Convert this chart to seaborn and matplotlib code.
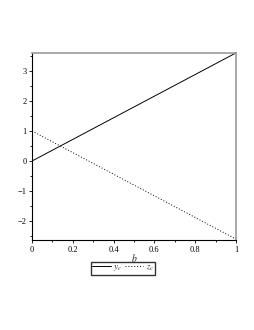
import numpy as np
import pandas as pd
import matplotlib.pyplot as plt
import seaborn as sns
from matplotlib.ticker import MultipleLocator
from matplotlib.lines import Line2D

# endpoints of the two lines
b = [0.0, 1.0]
y_c = [0.0, 3.6]
z_c = [1.0, -2.6]

df = pd.DataFrame({
    "b": b + b,
    "value": y_c + z_c,
    "series": ["$y_c$"] * 2 + ["$z_c$"] * 2,
})

sns.set_style("white")
plt.rcParams["font.family"] = ["Liberation Serif", "DejaVu Serif"]
plt.rcParams["mathtext.fontset"] = "stix"

fig = plt.figure(figsize=(2.55, 3.3), dpi=100)
ax = fig.add_axes([0.1255, 0.2727, 0.8, 0.567])

sns.lineplot(data=df, x="b", y="value", style="series", color="black",
             dashes={"$y_c$": "", "$z_c$": (1, 2)}, linewidth=0.7, ax=ax, legend=False)

ax.set_xlim(0, 1.0)
ax.set_ylim(-2.63, 3.6)
ax.xaxis.set_major_locator(MultipleLocator(0.2))
ax.xaxis.set_minor_locator(MultipleLocator(0.1))
ax.yaxis.set_major_locator(MultipleLocator(1))
ax.yaxis.set_minor_locator(MultipleLocator(0.5))
ax.set_xticks([0, 0.2, 0.4, 0.6, 0.8, 1.0])
ax.set_xticklabels(["0", "0.2", "0.4", "0.6", "0.8", "1"])
ax.tick_params(which="both", direction="out", length=2.5, width=0.6, labelsize=6, pad=1.5,
               left=True, bottom=True, colors="black")
ax.tick_params(which="minor", length=1.5)
ax.set_xlabel("$b$", fontsize=7, labelpad=-1)
ax.set_ylabel("")

for side in ["left", "bottom"]:
    ax.spines[side].set_color("black")
    ax.spines[side].set_linewidth(0.8)
for side in ["top", "right"]:
    ax.spines[side].set_color("#999999")
    ax.spines[side].set_linewidth(1.2)

handles = [Line2D([], [], color="black", lw=0.7),
           Line2D([], [], color="black", lw=0.7, dashes=(1, 2))]
fig.legend(handles, ["$y_c$", "$z_c$"], loc="upper center", bbox_to_anchor=(0.483, 0.207),
           ncol=2, fontsize=6.5, frameon=True, fancybox=False, edgecolor="black",
           handlelength=2.0, handletextpad=0.3, columnspacing=0.3, borderpad=0.15,
           borderaxespad=0)

fig.savefig("out.png", dpi=100)
